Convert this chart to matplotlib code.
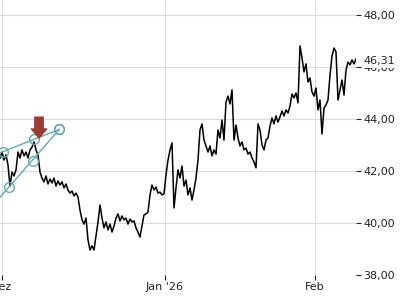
import matplotlib
matplotlib.use("Agg")
import matplotlib.pyplot as plt
import numpy as np

# closing prices, sampled evenly over the visible period (Dez -> Feb)
prices = [
    42.50, 42.73, 42.42, 42.62, 42.23, 41.42, 41.96, 41.81, 42.04, 42.73,
    42.50, 42.81, 42.58, 42.73, 42.50, 42.81, 42.92, 43.12, 42.81, 42.62,
    41.96, 41.73, 41.58, 41.81, 41.50, 41.69, 41.54, 41.73, 41.42, 41.62,
    41.46, 41.58, 41.35, 41.50, 41.27, 41.15, 41.23, 41.04, 41.15, 41.00,
    40.50, 40.12, 39.96, 40.19, 39.35, 38.96, 39.12, 38.96, 39.50, 40.04,
    40.69, 40.19, 39.81, 40.04, 39.73, 39.96, 39.65, 39.88, 40.19, 40.35,
    40.08, 40.27, 40.12, 40.19, 39.96, 40.15, 40.04, 40.08, 39.81, 39.65,
    39.46, 39.88, 40.31, 40.35, 40.42, 41.08, 41.46, 41.27, 41.38, 41.15,
    41.19, 41.08, 41.12, 41.85, 42.42, 42.81, 43.08, 40.58, 41.35, 42.04,
    41.73, 42.19, 41.42, 41.65, 41.08, 41.35, 40.88, 41.27, 41.73, 42.42,
    43.58, 43.81, 43.19, 42.96, 42.73, 42.96, 42.58, 42.81, 42.65, 43.58,
    43.27, 43.96, 43.19, 44.65, 44.88, 44.58, 45.12, 43.19, 43.77, 43.27,
    42.96, 43.12, 42.81, 42.88, 42.65, 42.73, 42.50, 42.35, 42.12, 43.81,
    43.58, 43.00, 42.81, 43.19, 43.27, 43.73, 44.04, 43.81, 44.12, 43.88,
    44.08, 44.31, 44.12, 44.35, 44.23, 44.50, 44.96, 44.81, 45.00, 44.62,
    46.81, 46.35, 45.81, 46.12, 45.42, 45.58, 45.04, 44.88, 45.19, 44.35,
    44.73, 43.42, 44.42, 44.54, 44.73, 45.69, 46.42, 46.73, 46.58, 44.73,
    45.12, 45.50, 44.92, 45.88, 46.19, 46.08, 46.27, 46.12, 46.31,
]
last_price = 46.31

# month labels and where they fall in the sample index
month_labels = ["Dez", "Jan '26", "Feb"]
month_pos = [1.0, 82.5, 157.5]

y_ticks = [38, 40, 42, 44, 46, 48]

# drawn wedge pattern (index, price)
pattern_upper_x = [1.35, 17.15, 29.65]
pattern_upper_y = [42.74, 43.22, 43.60]
pattern_lower_x = [4.65, 16.65, 29.65]
pattern_lower_y = [41.40, 42.40, 43.60]
signal_x, signal_y = 19.5, 43.27

teal = "#62aab5"
arrow_red = "#9c3b33"

fig = plt.figure(figsize=(4, 3), dpi=100)
ax = fig.add_axes([0, 25 / 300, 356 / 400, 275 / 300])

x = np.arange(len(prices))
ax.plot(x, prices, color="black", lw=1.1, zorder=3)

# pattern lines, extended to the left edge
for px, py in [(pattern_upper_x, pattern_upper_y), (pattern_lower_x, pattern_lower_y)]:
    slope = (py[-1] - py[0]) / (px[-1] - px[0])
    x0 = 0
    y0 = py[0] - slope * (px[0] - x0)
    ax.plot([x0, px[-1]], [y0, py[-1]], color=teal, lw=1.0, zorder=4)
    ax.plot(px, py, "o", ms=7, mfc="none", mec=teal, mew=1.0, zorder=5)

ax.annotate("", xy=(signal_x, signal_y), xytext=(0, 15), textcoords="offset points",
            arrowprops=dict(arrowstyle="simple,head_length=0.65,head_width=1.1,tail_width=0.6",
                            color=arrow_red, mutation_scale=10, shrinkA=0, shrinkB=0),
            zorder=6)

ax.set_xlim(0, len(prices) - 1)
ax.set_ylim(38, 48 + 15 / 26)

ax.set_xticks(month_pos)
ax.set_xticklabels(month_labels)
ax.set_yticks(y_ticks)
ax.set_yticklabels([f"{v:.2f}".replace(".", ",") for v in y_ticks])
ax.yaxis.tick_right()

ax.tick_params(axis="both", labelsize=8, colors="#222222", length=3.6, width=0.8, pad=1.5)
ax.grid(True, color="#dcdcdc", lw=0.8, zorder=0)
ax.set_axisbelow(True)
for s in ax.spines.values():
    s.set_visible(False)

# last price label sits on top of the 46,00 tick label
ax.annotate(f"{last_price:.2f}".replace(".", ","), xy=(1, last_price),
            xycoords=("axes fraction", "data"), xytext=(5.2, -1.5), textcoords="offset points",
            va="center", ha="left", fontsize=8, color="#222222", annotation_clip=False,
            bbox=dict(fc="white", ec="none", pad=1.2))

fig.savefig("out.png", dpi=100)
